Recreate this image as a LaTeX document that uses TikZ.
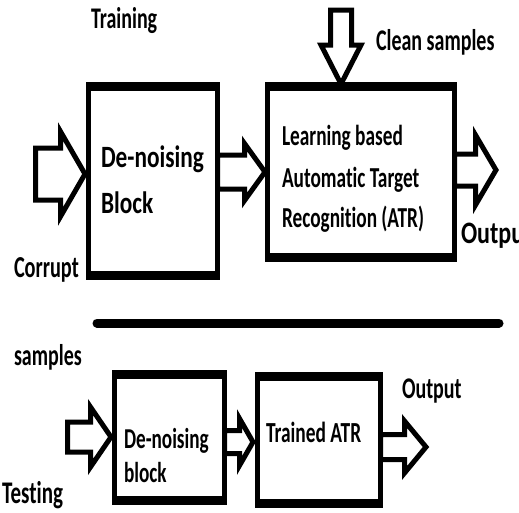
\documentclass[tikz,border=0pt]{standalone}
\usepackage{fontspec}
\usepackage{graphicx}
\setmainfont{Carlito}[Ligatures=NoCommon]
\usetikzlibrary{calc}
\newcommand{\vs}[2]{\scalebox{1}[#1]{#2}}
% horizontal block arrow: #1 tip, #2 total length, #3 shaft half, #4 head half, #5 head length
\newcommand{\harrow}[5]{\draw[barr] #1 -- ++(-#5,-#4) -- ++(0,#4-#3) -- ++(-#2+#5,0) -- ++(0,2*#3) -- ++(#2-#5,0) -- ++(0,#4-#3) -- cycle;}
% downward block arrow
\newcommand{\varrow}[5]{\draw[barr] #1 -- ++(-#4,-#5) -- ++(#4-#3,0) -- ++(0,-#2+#5) -- ++(2*#3,0) -- ++(0,#2-#5) -- ++(#4-#3,0) -- cycle;}
\tikzset{
  boxst/.style={draw, line width=5pt, inner sep=0pt, outer sep=0pt, line join=miter},
  edgest/.style={line width=9pt, line cap=butt},
  barr/.style={draw, fill=white, line width=5pt, line join=miter, miter limit=10},
  txt/.style={anchor=base west, inner sep=0pt, outer sep=0pt, font=\bfseries\fontsize{#1}{24}\selectfont},
  txt/.default=20
}
\begin{document}
\begin{tikzpicture}[x=1pt,y=-1pt]
\useasboundingbox (0,0) rectangle (519,512);
\clip (0,0) rectangle (519,512);
% boxes
\node[boxst, minimum width=129pt, minimum height=189pt] (b1) at (153,181) {};
\node[boxst, minimum width=187pt, minimum height=171pt] (b2) at (361,172) {};
\node[boxst, minimum width=110pt, minimum height=126pt] (bb1) at (169.5,437.5) {};
\node[boxst, minimum width=123pt, minimum height=127pt] (bb2) at (319,440) {};
% block arrows
\harrow{($(b1.west)+(-3.5,-7)$)}{49.5}{26}{42.5}{24.5}
\harrow{($(b2.west)+(-2.5,0)$)}{47.5}{17}{28.5}{20.5}
\harrow{($(b2.east)+(41.5,-2)$)}{41.5}{16}{35}{20.5}
\varrow{($(b2.north)+(-20,-2.5)$)}{74}{10.5}{20}{39}
\harrow{($(bb1.west)+(-3.5,-0.5)$)}{43.5}{15}{30}{20.5}
\harrow{($(bb2.west)+(-4.5,2)$)}{28.5}{11.5}{23.5}{13.5}
\harrow{($(bb2.east)+(45.5,7)$)}{45.5}{12.5}{26}{21.5}
% thick top and bottom edges
\foreach \b in {b1,b2,bb1,bb2}{
  \draw[edgest] ([xshift=-2.5pt]\b.north west) -- ([xshift=2.5pt]\b.north east);
  \draw[edgest] ([xshift=-2.5pt]\b.south west) -- ([xshift=2.5pt]\b.south east);
}
% separator
\coordinate (l1) at (97,323);
\coordinate (l2) at (499,323);
\draw[line width=9pt, line cap=round] (l1) -- (l2);
% texts
\node[txt] (t1) at (91,28) {\vs{1.5}{Training}};
\node[txt] (t2) at (376,50) {\vs{1.5}{Clean samples}};
\node[txt=23.3] (t3) at (101,167) {\vs{1.33}{De-noising}};
\node[txt=23.3] (t4) at (101,213) {\vs{1.33}{Block}};
\node[txt=19.3] (t5) at (282,145) {\vs{1.5}{Learning based}};
\node[txt=19.3] (t6) at (282,187) {\vs{1.5}{Automatic Target}};
\node[txt=19.3] (t7) at (282,227) {\vs{1.5}{Recognition (ATR)}};
\node[txt=24] (t8) at (461,243) {\vs{1.3}{Output}};
\node[txt=20.3] (t9) at (14,277) {\vs{1.5}{Corrupt}};
\node[txt] (t10) at (14,365) {\vs{1.5}{samples}};
\node[txt=19.2] (t11) at (124,448) {\vs{1.5}{De-noising}};
\node[txt=19.2] (t12) at (124,482) {\vs{1.5}{block}};
\node[txt=19.4] (t13) at (266,442) {\vs{1.5}{Trained ATR}};
\node[txt] (t14) at (402,398) {\vs{1.5}{Output}};
\node[txt=21] (t15) at (2,503) {\vs{1.5}{Testing}};
\end{tikzpicture}
\end{document}
